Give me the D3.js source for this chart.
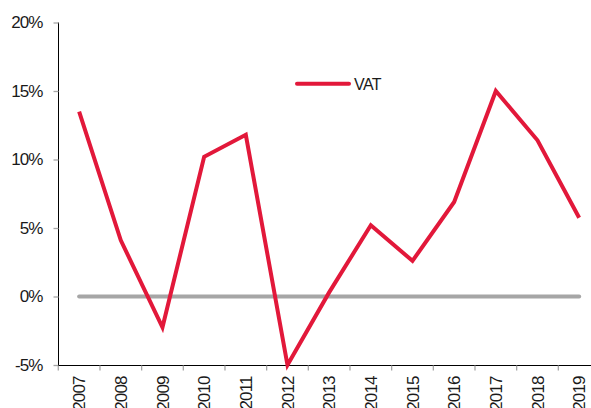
<!DOCTYPE html>
<html><head><meta charset="utf-8">
<script src="https://cdn.jsdelivr.net/npm/d3@7"></script>
<style>
body{margin:0;background:#fff;}
svg text{font-family:"Liberation Sans",Arial,sans-serif;fill:#1a1a1a;}
</style></head>
<body><svg id="c" width="591" height="408"></svg>
<script>
const years = ["2007","2008","2009","2010","2011","2012","2013","2014","2015","2016","2017","2018","2019"];
const vat = [13.5, 4.1, -2.25, 10.2, 11.8, -5.0, 0.3, 5.2, 2.6, 6.9, 15.0, 11.4, 5.75];
const yTicks = [-5, 0, 5, 10, 15, 20];
const seriesName = "VAT";

const svg = d3.select("#c");
const x = d3.scaleBand().domain(years).range([58.3, 600]).padding(0);
const y = d3.scaleLinear().domain([-5, 20]).range([365, 22.5]);
const red = "#E2183A", grey = "#A6A6A6";

// y axis
const ya = svg.append("g").attr("transform", "translate(58.5,0)")
  .call(d3.axisLeft(y).tickValues(yTicks).tickSize(5).tickPadding(11).tickFormat(d => d + "%"));
ya.select(".domain").attr("stroke", "#000").attr("d", `M0,${y(20)}V${y(-5)}`);
ya.selectAll(".tick line").attr("stroke", grey).attr("stroke-width", 1.3);
ya.selectAll(".tick text").style("font-size", "17px").style("letter-spacing", "-0.9px")
  .attr("font-family", null).attr("fill", "#1a1a1a");

// x axis
const xg = svg.append("g").attr("transform", `translate(0,${y(-5) + 0.5})`);
xg.append("line").attr("x1", 58).attr("x2", 600).attr("stroke", "#000");
const bounds = years.map(d => x(d)).concat([x.range()[1]]);
xg.selectAll("line.t").data(bounds).join("line").attr("class", "t")
  .attr("x1", d => d).attr("x2", d => d).attr("y1", 0).attr("y2", 5)
  .attr("stroke", grey).attr("stroke-width", 1.3);
xg.selectAll("text").data(years).join("text")
  .attr("transform", d => `translate(${x(d) + x.bandwidth() / 2},11) rotate(-90)`)
  .attr("text-anchor", "end").attr("dy", "0.36em")
  .style("font-size", "17px").style("letter-spacing", "-0.9px").text(d => d);

// zero line
svg.append("line")
  .attr("x1", x(years[0]) + x.bandwidth() / 2).attr("x2", x(years[years.length - 1]) + x.bandwidth() / 2)
  .attr("y1", y(0)).attr("y2", y(0))
  .attr("stroke", grey).attr("stroke-width", 4).attr("stroke-linecap", "round");

// series line
const line = d3.line().x((d, i) => x(years[i]) + x.bandwidth() / 2).y(d => y(d));
svg.append("path").datum(vat).attr("d", line).attr("fill", "none")
  .attr("stroke", red).attr("stroke-width", 4).attr("stroke-linejoin", "miter").attr("stroke-miterlimit", 3);

// legend
const lg = svg.append("g");
lg.append("line").attr("x1", 297).attr("x2", 349).attr("y1", 83.7).attr("y2", 83.7)
  .attr("stroke", red).attr("stroke-width", 4).attr("stroke-linecap", "round");
lg.append("text").attr("x", 354).attr("y", 89.5).style("font-size", "16px").style("letter-spacing", "-0.6px").text(seriesName);
</script></body></html>
